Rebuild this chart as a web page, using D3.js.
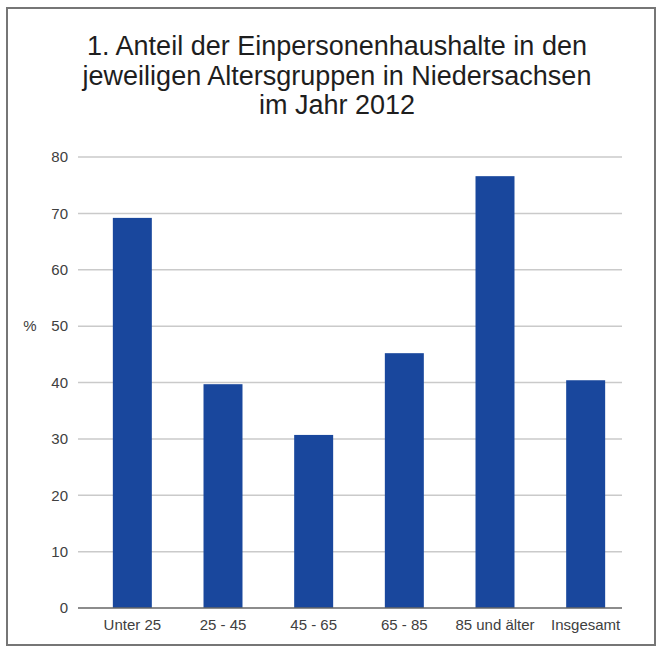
<!DOCTYPE html>
<html>
<head>
<meta charset="utf-8">
<script src="https://cdn.jsdelivr.net/npm/d3@7"></script>
<style>
    body { margin: 0; background: #fff; }
    text { font-family: "Liberation Sans", Arial, sans-serif; fill: #404040; }
</style>
</head>
<body>
<div id="chart"></div>
<script>
// values
var categories = ["Unter 25", "25 - 45", "45 - 65", "65 - 85", "85 und älter", "Insgesamt"];
var values = [69.2, 39.7, 30.7, 45.2, 76.6, 40.4];
var yTicks = [0, 10, 20, 30, 40, 50, 60, 70, 80];
var titleLines = ["1. Anteil der Einpersonenhaushalte in den",
    "jeweiligen Altersgruppen in Niedersachsen",
    "im Jahr 2012"];

var width = 660,
    height = 648,
    gridLeft = 78,
    gridRight = 622,
    plotTop = 157,
    plotBottom = 608;

var svg = d3.select("#chart").append("svg")
    .attr("width", width)
    .attr("height", height);

// frame
svg.append("rect")
    .attr("x", 7).attr("y", 8)
    .attr("width", 648).attr("height", 637)
    .attr("fill", "none")
    .attr("stroke", "#767676")
    .attr("stroke-width", 2);

// title
svg.append("g").attr("class", "title").selectAll("text")
    .data(titleLines).enter()
    .append("text")
    .attr("x", 337)
    .attr("y", function(d, i) { return 55 + i * 29.5; })
    .attr("text-anchor", "middle")
    .style("font-size", "27px")
    .style("fill", "#1e1e1e")
    .text(function(d) { return d; });

var x = d3.scaleBand().domain(categories)
    .range([gridLeft + 9, gridRight + 9])
    .paddingInner(0.57).paddingOuter(0.285);
var y = d3.scaleLinear().domain([0, 80]).range([plotBottom, plotTop]);

// gridlines
svg.append("g").attr("class", "y-grid").selectAll("line")
    .data(yTicks.filter(function(d) { return d > 0; })).enter()
    .append("line")
    .attr("x1", gridLeft).attr("x2", gridRight)
    .attr("y1", function(d) { return y(d); })
    .attr("y2", function(d) { return y(d); })
    .attr("stroke", "#cacaca")
    .attr("stroke-width", 1.5);

// y axis labels
var yAxis = d3.axisLeft(y).tickValues(yTicks).tickSize(0).tickPadding(10);
var gy = svg.append("g")
    .attr("transform", "translate(" + gridLeft + ",0)")
    .call(yAxis);
gy.select(".domain").remove();
gy.selectAll("text")
    .style("font-size", "15px")
    .style("font-family", "Liberation Sans, Arial, sans-serif")
    .attr("fill", "#404040");

svg.append("text")
    .attr("x", 30).attr("y", y(50))
    .attr("dy", "0.35em")
    .attr("text-anchor", "middle")
    .style("font-size", "15px")
    .text("%");

// bars
svg.append("g").attr("class", "bars").selectAll("rect")
    .data(values).enter()
    .append("rect")
    .attr("x", function(d, i) { return x(categories[i]); })
    .attr("y", function(d) { return y(d); })
    .attr("width", x.bandwidth())
    .attr("height", function(d) { return y(0) - y(d); })
    .attr("fill", "#19479d");

// baseline
svg.append("line")
    .attr("x1", gridLeft).attr("x2", gridRight)
    .attr("y1", y(0)).attr("y2", y(0))
    .attr("stroke", "#666")
    .attr("stroke-width", 1.5);

// category labels
var xAxis = d3.axisBottom(x).tickSize(0).tickPadding(11);
var gx = svg.append("g")
    .attr("transform", "translate(0," + plotBottom + ")")
    .call(xAxis);
gx.select(".domain").remove();
gx.selectAll("text")
    .style("font-size", "15px")
    .style("font-family", "Liberation Sans, Arial, sans-serif")
    .attr("fill", "#404040");
</script>
</body>
</html>
